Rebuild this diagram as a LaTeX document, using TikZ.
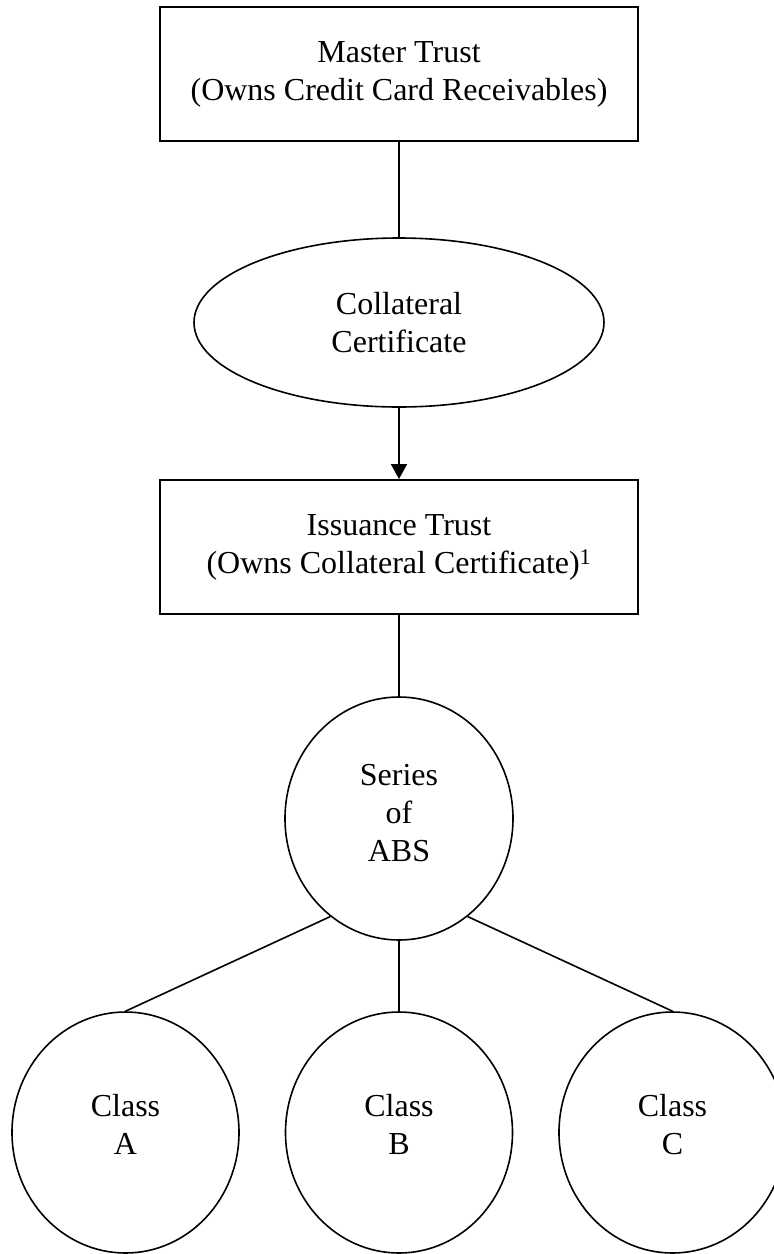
\documentclass[tikz,border=0pt]{standalone}
\usepackage{fontspec}
\setmainfont{Liberation Serif}
\usetikzlibrary{shapes.geometric,arrows.meta}
\tikzset{
  rectbox/.style={draw, line width=2pt, rectangle, minimum width=478pt, minimum height=134pt, inner sep=0pt, align=center},
  ovalnode/.style={draw, line width=1.6pt, ellipse, inner sep=0pt, align=center},
  classnode/.style={ovalnode, minimum width=227pt, minimum height=241pt, text depth=16pt},
  link/.style={line width=1.6pt},
  thicklink/.style={line width=2pt}
}
\begin{document}
\begin{tikzpicture}[x=1pt,y=-1pt,font=\fontsize{32}{38}\selectfont]
\useasboundingbox (0,0) rectangle (774,1254);
\clip (0,0) rectangle (774,1254);
\node[rectbox] (MT) at (399,74) {Master Trust\\(Owns Credit Card Receivables)};
\node[ovalnode, minimum width=410pt, minimum height=169pt] (CC) at (399,322.5) {Collateral\\Certificate};
\node[rectbox] (IT) at (399,547) {Issuance Trust\\(Owns Collateral Certificate)\textsuperscript{1}};
\node[ovalnode, minimum width=228pt, minimum height=243pt, text depth=12pt] (S) at (399,818.5) {Series\\of\\ABS};
\node[classnode] (A) at (125.5,1132.5) {Class\\A};
\node[classnode] (B) at (399,1132.5) {Class\\B};
\node[classnode] (C) at (672.5,1132.5) {Class\\C};
\draw[thicklink] (MT.south) -- (CC.north);
\draw[thicklink, -{Triangle[length=15pt,width=16pt]}] (CC.south) -- (IT.north);
\draw[link] (IT.south) -- (S.north);
\draw[link] (S.235) -- (A.north);
\draw[link] (S.south) -- (B.north);
\draw[link] (S.305) -- (C.north);
\end{tikzpicture}
\end{document}
